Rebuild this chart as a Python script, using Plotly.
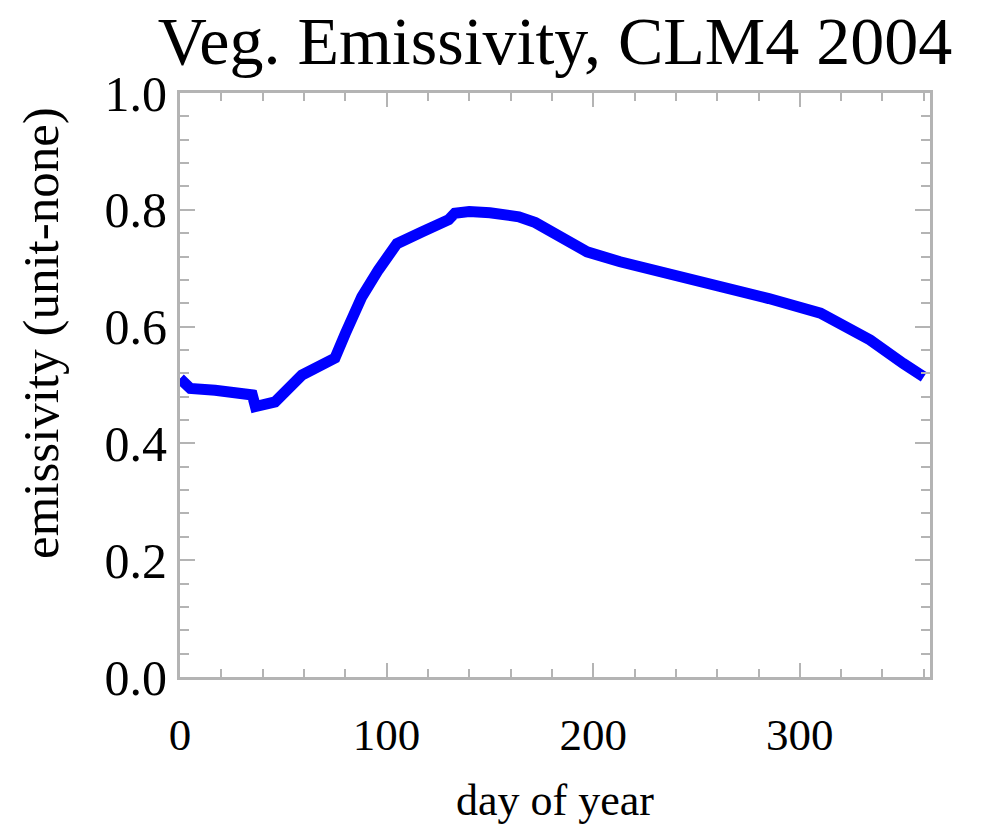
import plotly.graph_objects as go

days = [0, 5, 17, 35, 36.5, 46, 59, 75, 80, 88, 96, 105, 117, 130, 133, 140, 150,
        164, 172, 180, 197, 213, 240, 261, 285, 310, 334, 350, 360]
emissivity = [0.511, 0.494, 0.491, 0.483, 0.463, 0.471, 0.517, 0.546, 0.588, 0.651,
              0.697, 0.742, 0.762, 0.783, 0.794, 0.797, 0.795, 0.788, 0.778, 0.762,
              0.728, 0.711, 0.688, 0.668, 0.648, 0.623, 0.577, 0.537, 0.514]

title_text = "Veg. Emissivity, CLM4 2004"
x_label = "day of year"
y_label = "emissivity (unit-none)"
x_ticks = [0, 100, 200, 300]
y_ticks = [0.0, 0.2, 0.4, 0.6, 0.8, 1.0]
y_tick_labels = ["0.0", "0.2", "0.4", "0.6", "0.8", "1.0"]

FONT = "Liberation Serif"
AX = "#b4b4b4"

fig = go.Figure()
fig.add_trace(go.Scatter(x=days, y=emissivity, mode="lines",
                         line=dict(color="#0000ff", width=11), showlegend=False))

fig.update_layout(
    width=984, height=828,
    margin=dict(l=180, r=54, t=93, b=151),
    paper_bgcolor="white", plot_bgcolor="white",
    font=dict(family=FONT, color="black"),
    title=dict(text=title_text, font=dict(family=FONT, size=68, color="black"),
               x=0.5, xanchor="center", xref="paper",
               y=1 - 40 / 828, yanchor="middle", yref="container"),
)

fig.update_xaxes(range=[0, 363], tickvals=x_ticks, ticks="inside", ticklen=14,
                 tickwidth=2, tickcolor=AX, showline=True, linecolor=AX, linewidth=3,
                 mirror="allticks", showgrid=False, zeroline=False,
                 tickfont=dict(family=FONT, size=45, color="black"),
                 ticklabelstandoff=16,
                 minor=dict(ticks="inside", ticklen=8, tickwidth=2, tickcolor=AX,
                            dtick=20, tick0=0, showgrid=False))
fig.update_yaxes(range=[0, 1], tickvals=y_ticks, ticktext=y_tick_labels, ticks="inside",
                 ticklen=15, tickwidth=2, tickcolor=AX, showline=True, linecolor=AX,
                 linewidth=3, mirror="allticks", showgrid=False, zeroline=False,
                 tickfont=dict(family=FONT, size=50, color="black"),
                 ticklabelstandoff=0,
                 minor=dict(ticks="inside", ticklen=9, tickwidth=2, tickcolor=AX,
                            dtick=0.04, tick0=0, showgrid=False))

fig.add_annotation(text=x_label, xref="paper", yref="paper", x=0.5, y=(677 - 800) / 584,
                   xanchor="center", yanchor="middle", showarrow=False,
                   font=dict(family=FONT, size=44, color="black"))
fig.add_annotation(text=y_label, xref="paper", yref="paper", x=(41 - 180) / 750,
                   y=(677 - 333) / 584, xanchor="center", yanchor="middle",
                   textangle=-90, showarrow=False,
                   font=dict(family=FONT, size=51, color="black"))

fig.write_html("out.html")
